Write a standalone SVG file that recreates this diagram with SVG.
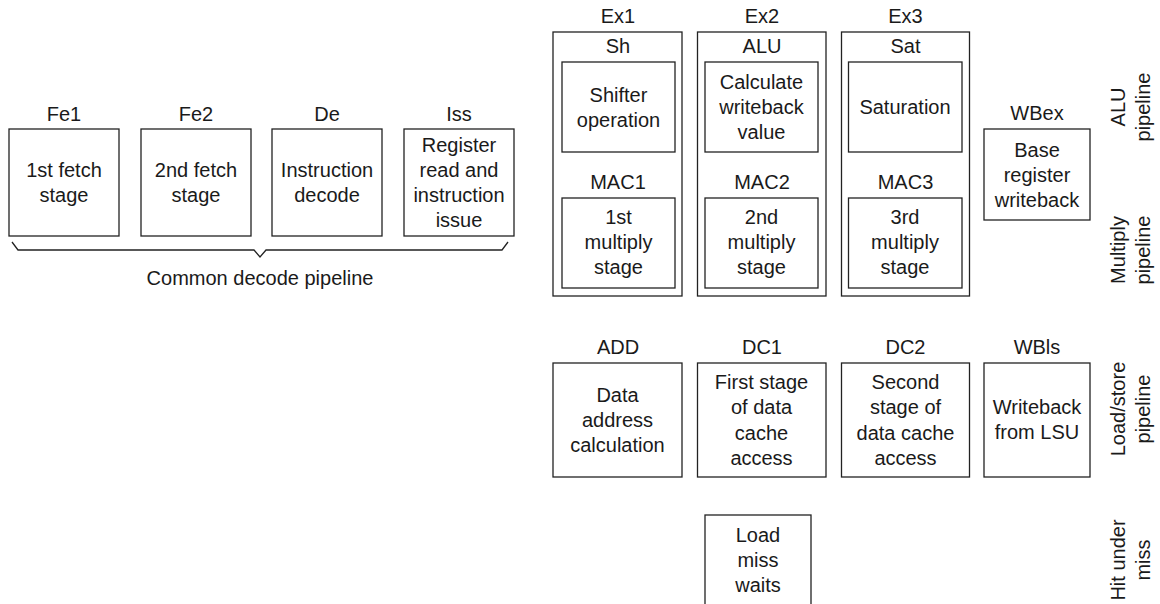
<svg xmlns="http://www.w3.org/2000/svg" width="1160" height="604" viewBox="0 0 1160 604">
  <style>
    .box { fill: #ffffff; stroke: #222222; stroke-width: 1.3; }
    .frame { fill: none; stroke: #222222; stroke-width: 1.3; }
    text { font-family: "Liberation Sans", Arial, sans-serif; font-size: 20px; fill: #1a1a1a; text-anchor: middle; }
  </style>
  <rect width="1160" height="604" fill="#ffffff"/>

  <!-- Common decode pipeline -->
  <g id="fe1">
    <text x="64" y="121">Fe1</text>
    <rect class="box" x="9" y="129" width="110" height="107"/>
    <text x="64" y="177">1st fetch<tspan x="64" dy="25">stage</tspan></text>
  </g>
  <g id="fe2">
    <text x="196" y="121">Fe2</text>
    <rect class="box" x="141" y="129" width="110" height="107"/>
    <text x="196" y="177">2nd fetch<tspan x="196" dy="25">stage</tspan></text>
  </g>
  <g id="de">
    <text x="327" y="121">De</text>
    <rect class="box" x="272" y="129" width="110" height="107"/>
    <text x="327" y="177">Instruction<tspan x="327" dy="25">decode</tspan></text>
  </g>
  <g id="iss">
    <text x="459" y="121">Iss</text>
    <rect class="box" x="404" y="129" width="110" height="107"/>
    <text x="459" y="152">Register<tspan x="459" dy="25">read and</tspan><tspan x="459" dy="25">instruction</tspan><tspan x="459" dy="25">issue</tspan></text>
  </g>
  <g id="decode-brace">
    <path class="frame" d="M12,242 L18,250 L254,250 L260,257 L266,250 L502,250 L508,242"/>
    <text x="260" y="285">Common decode pipeline</text>
  </g>

  <!-- Execute stages: ALU and multiply pipelines -->
  <g id="ex1">
    <text x="618" y="23">Ex1</text>
    <rect class="frame" x="553" y="32" width="129" height="264"/>
    <text x="618" y="53">Sh</text>
    <rect class="box" x="562" y="62" width="113" height="90"/>
    <text x="618.5" y="101.5">Shifter<tspan x="618.5" dy="25">operation</tspan></text>
    <text x="618" y="189">MAC1</text>
    <rect class="box" x="562" y="198" width="113" height="90"/>
    <text x="618.5" y="224">1st<tspan x="618.5" dy="25">multiply</tspan><tspan x="618.5" dy="25">stage</tspan></text>
  </g>
  <g id="ex2">
    <text x="762" y="23">Ex2</text>
    <rect class="frame" x="697.5" y="32" width="128.5" height="264"/>
    <text x="762" y="53">ALU</text>
    <rect class="box" x="705" y="62" width="113" height="90"/>
    <text x="761.5" y="89">Calculate<tspan x="761.5" dy="25">writeback</tspan><tspan x="761.5" dy="25">value</tspan></text>
    <text x="762" y="189">MAC2</text>
    <rect class="box" x="705" y="198" width="113" height="90"/>
    <text x="761.5" y="224">2nd<tspan x="761.5" dy="25">multiply</tspan><tspan x="761.5" dy="25">stage</tspan></text>
  </g>
  <g id="ex3">
    <text x="905.5" y="23">Ex3</text>
    <rect class="frame" x="841.5" y="32" width="128" height="264"/>
    <text x="905.5" y="53">Sat</text>
    <rect class="box" x="848.5" y="62" width="113.5" height="90"/>
    <text x="905" y="114">Saturation</text>
    <text x="905.5" y="189">MAC3</text>
    <rect class="box" x="848.5" y="198" width="113.5" height="90"/>
    <text x="905" y="224">3rd<tspan x="905" dy="25">multiply</tspan><tspan x="905" dy="25">stage</tspan></text>
  </g>
  <g id="wbex">
    <text x="1037" y="120">WBex</text>
    <rect class="box" x="984" y="129" width="106" height="91"/>
    <text x="1037" y="156.5">Base<tspan x="1037" dy="25">register</tspan><tspan x="1037" dy="25">writeback</tspan></text>
  </g>

  <!-- Load/store pipeline -->
  <g id="add">
    <text x="618" y="354">ADD</text>
    <rect class="box" x="553" y="363" width="129" height="114"/>
    <text x="617.5" y="402">Data<tspan x="617.5" dy="25">address</tspan><tspan x="617.5" dy="25">calculation</tspan></text>
  </g>
  <g id="dc1">
    <text x="762" y="354">DC1</text>
    <rect class="box" x="697.5" y="363" width="128.5" height="114"/>
    <text x="761.5" y="389">First stage<tspan x="761.5" dy="25.3">of data</tspan><tspan x="761.5" dy="25.3">cache</tspan><tspan x="761.5" dy="25.3">access</tspan></text>
  </g>
  <g id="dc2">
    <text x="905.5" y="354">DC2</text>
    <rect class="box" x="841.5" y="363" width="128" height="114"/>
    <text x="905.5" y="389">Second<tspan x="905.5" dy="25.3">stage of</tspan><tspan x="905.5" dy="25.3">data cache</tspan><tspan x="905.5" dy="25.3">access</tspan></text>
  </g>
  <g id="wbls">
    <text x="1037" y="354">WBls</text>
    <rect class="box" x="984" y="363" width="106" height="114"/>
    <text x="1037" y="414">Writeback<tspan x="1037" dy="25">from LSU</tspan></text>
  </g>

  <!-- Hit under miss -->
  <g id="load-miss">
    <rect class="box" x="705" y="515" width="106" height="100"/>
    <text x="758" y="542">Load<tspan x="758" dy="25">miss</tspan><tspan x="758" dy="25">waits</tspan></text>
  </g>

  <!-- Pipeline names, reading upwards -->
  <g id="pipeline-names">
    <text transform="translate(1125,107) rotate(-90)">ALU<tspan x="0" dy="25">pipeline</tspan></text>
    <text transform="translate(1125,250) rotate(-90)">Multiply<tspan x="0" dy="25">pipeline</tspan></text>
    <text transform="translate(1125,409) rotate(-90)">Load/store<tspan x="0" dy="25">pipeline</tspan></text>
    <text transform="translate(1125,560) rotate(-90)">Hit under<tspan x="0" dy="25">miss</tspan></text>
  </g>
</svg>
